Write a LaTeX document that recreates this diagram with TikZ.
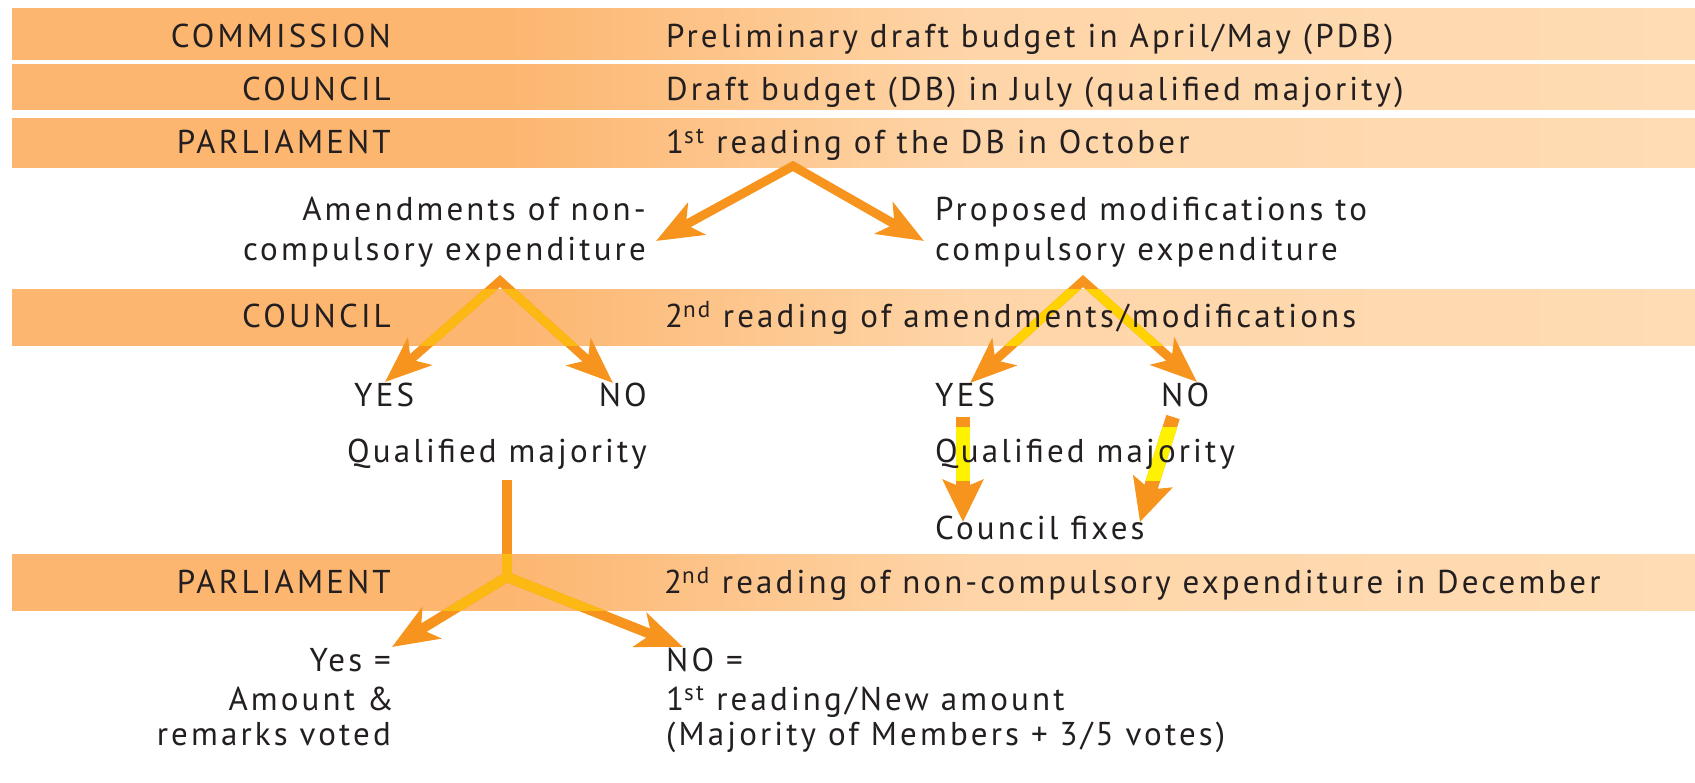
\documentclass[tikz,border=0pt]{standalone}
\usepackage{fontspec}
\setmainfont{PT Sans}[LetterSpace=9.5]
\usetikzlibrary{arrows.meta}
\definecolor{orA}{HTML}{F7941D}
\definecolor{yelA}{HTML}{FDB913}
\definecolor{yelB}{HTML}{FFD200}
\definecolor{yelC}{HTML}{FFF200}
\definecolor{barA}{HTML}{FCB670}
\definecolor{barB}{HTML}{FED5A8}
\definecolor{barC}{HTML}{FFDCB4}
\definecolor{txt}{HTML}{231F20}
\pgfdeclarehorizontalshading{barshade}{100bp}{color(0bp)=(barA); color(25bp)=(barA); color(39.7bp)=(barA); color(53.5bp)=(barB); color(75bp)=(barC); color(100bp)=(barC)}
\begin{document}
\begin{tikzpicture}[x=1pt,y=-1pt,
  lab/.style={inner sep=0pt, text=txt, font=\fontsize{33}{38}\selectfont},
  le/.style={lab, anchor=base east},
  lw/.style={lab, anchor=base west},
  tipAA/.style={{Stealth[length=46pt,width=36pt,inset=12pt]}-{Stealth[length=46pt,width=36pt,inset=12pt]}},
  tipD/.style={-{Stealth[length=42pt,width=40pt,inset=8pt]}},
  arrline/.style={line width=9pt, line join=miter, line cap=butt},
  downline/.style={line width=14pt, line cap=butt},
  barfill/.style={shading=barshade}]
\useasboundingbox (0,0) rectangle (1695,782);
\fill[white] (0,0) rectangle (1695,782);
% bars
\shade[barfill] (12,8) rectangle (1695,59);
\shade[barfill] (12,64) rectangle (1695,109);
\shade[barfill] (12,118) rectangle (1695,167);
\shade[barfill] (12,289) rectangle (1695,345);
\shade[barfill] (12,554) rectangle (1695,610);
% coordinates
\coordinate (a1) at (793,166);
\coordinate (a1l) at (656,241);
\coordinate (a1r) at (924,241);
\coordinate (a2) at (500,281);
\coordinate (a2l) at (385,382);
\coordinate (a2r) at (613,383);
\coordinate (a3) at (1083,281);
\coordinate (a3l) at (970,383);
\coordinate (a3r) at (1197,382);
\coordinate (d1s) at (963,417);
\coordinate (d1e) at (963,522);
\coordinate (d2s) at (1173,417);
\coordinate (d2e) at (1140,522);
\coordinate (v0) at (507,480);
\coordinate (v1) at (507,577);
\coordinate (b5l) at (392,647);
\coordinate (b5r) at (683,647);
% arrows (orange)
\draw[orA, arrline, tipAA] (a1l) -- (a1) -- (a1r);
\draw[orA, arrline, tipAA] (a2l) -- (a2) -- (a2r);
\draw[orA, arrline, tipAA] (a3l) -- (a3) -- (a3r);
\draw[orA, downline, tipD] (d1s) -- (d1e);
\draw[orA, downline, tipD] (d2s) -- (d2e);
\draw[orA, line width=10pt, line cap=butt] (v0) -- (v1);
\draw[orA, arrline, line width=10pt, tipAA] (b5l) -- (v1) -- (b5r);
% yellow parts inside bars
\begin{scope}
\clip (12,289) rectangle (1695,345);
\draw[yelA, arrline] (a2l) -- (a2) -- (a2r);
\draw[yelB, arrline] (a3l) -- (a3) -- (a3r);
\end{scope}
\begin{scope}
\clip (12,554) rectangle (1695,610);
\draw[yelA, line width=10pt] (v0) -- (v1);
\draw[yelA, arrline, line width=10pt] (b5l) -- (v1) -- (b5r);
\end{scope}
\begin{scope}
\clip (900,427) rectangle (1250,480);
\draw[yelC, downline] (d1s) -- (d1e);
\draw[yelC, downline] (d2s) -- (d2e);
\end{scope}
% bar labels
\node[le] (l1) at (391,47) {COMMISSION};
\node[lw] (r1) at (666,47) {Preliminary draft budget in April/May (PDB)};
\node[le] (l2) at (391,100) {COUNCIL};
\node[lw] (r2) at (666,100) {Draft budget (DB) in July (qualified majority)};
\node[le] (l3) at (391,153) {PARLIAMENT};
\node[lw] (r3) at (666,153) {1\textsuperscript{st} reading of the DB in October};
\node[le] (l4) at (391,327) {COUNCIL};
\node[lw] (r4) at (665,327) {2\textsuperscript{nd} reading of amendments/modifications};
\node[le] (l5) at (391,593) {PARLIAMENT};
\node[lw] (r5) at (664,593) {2\textsuperscript{nd} reading of non-compulsory expenditure in December};
% middle texts
\node[le] (m1) at (646,220) {Amendments of non-};
\node[le] (m2) at (646,260) {compulsory expenditure};
\node[lw] (m3) at (935,220) {Proposed modifications to};
\node[lw] (m4) at (935,260) {compulsory expenditure};
\node[lw] (y1) at (354,406) {YES};
\node[le] (n1) at (647,406) {NO};
\node[lw] (q1) at (347,462) {Qualified majority};
\node[lw] (y2) at (935,406) {YES};
\node[lw] (n2) at (1161,406) {NO};
\node[lw] (q2) at (935,462) {Qualified majority};
\node[lw] (cf) at (935,539) {Council fixes};
% bottom texts
\node[le] (e1) at (391,671) {Yes =};
\node[le] (e2) at (394,710) {Amount \&};
\node[le] (e3) at (391,745) {remarks voted};
\node[lw] (f1) at (666,671) {NO =};
\node[lw] (f2) at (666,710) {1\textsuperscript{st} reading/New amount};
\node[lw] (f3) at (666,745) {(Majority of Members + 3/5 votes)};
\end{tikzpicture}
\end{document}
